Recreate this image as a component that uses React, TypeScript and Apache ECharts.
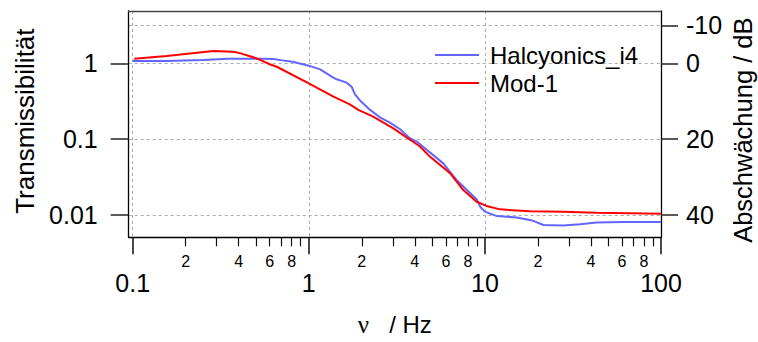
import React, { useEffect, useRef } from "react";
import * as echarts from "echarts";

// ---- data ----
const freqBlue = [0.1, 0.156, 0.25, 0.35, 0.55, 0.63, 0.69, 0.81, 1.0, 1.16, 1.37, 1.44, 1.64, 1.75, 1.83, 1.96, 2.23, 2.53, 2.89, 3.3, 3.75, 4.1, 5.8, 6.9, 7.9, 9.0, 9.4, 10, 11.7, 15.2, 18.8, 21.5, 27.9, 34.7, 43.1, 61, 100];
const transBlue = [1.07, 1.07, 1.105, 1.15, 1.15, 1.14, 1.1, 1.05, 0.93, 0.83, 0.65, 0.615, 0.555, 0.49, 0.39, 0.32, 0.243, 0.194, 0.165, 0.135, 0.103, 0.093, 0.048, 0.029, 0.0214, 0.0161, 0.0129, 0.0111, 0.0097, 0.0093, 0.0084, 0.0074, 0.0073, 0.0076, 0.008, 0.0081, 0.0081];

const freqRed = [0.102, 0.156, 0.287, 0.372, 0.406, 0.506, 0.6, 0.658, 1.0, 1.38, 1.51, 1.71, 1.91, 2.32, 3.02, 4.28, 4.87, 6.34, 7.54, 8.98, 10.2, 12.2, 18, 27.9, 43.1, 66.7, 100];
const transRed = [1.15, 1.25, 1.45, 1.42, 1.36, 1.16, 0.97, 0.9, 0.545, 0.363, 0.33, 0.288, 0.243, 0.198, 0.139, 0.08, 0.059, 0.0356, 0.0214, 0.015, 0.0132, 0.0119, 0.0112, 0.0111, 0.0107, 0.0106, 0.0104];

const seriesNames = ["Halcyonics_i4", "Mod-1"];

const xMajorValues = [0.1, 1, 10, 100];
const xMajorLabels = ["0.1", "1", "10", "100"];
const xMinorMultipliers = [2, 3, 4, 5, 6, 7, 8, 9];
const xMinorLabelled = [2, 4, 6, 8];
const xDecades = [0.1, 1, 10];

const yLeftValues = [0.01, 0.1, 1];
const yLeftLabels = ["0.01", "0.1", "1"];
const yRightValues = [-10, 0, 20, 40];
const yRightLabels = ["-10", "0", "20", "40"];

// axis ranges
const xMin = 0.0949;
const xMax = 100;
const yMin = 0.0051;
const yMax = 4.88;

const FONT = "Liberation Sans, Arial, sans-serif";
const lg = (v: number) => Math.log10(v);

function nearestLabel(v: number, values: number[], labels: string[]) {
  let best = 0;
  let bd = Infinity;
  values.forEach((x, i) => {
    const d = Math.abs(x - v);
    if (d < bd) {
      bd = d;
      best = i;
    }
  });
  return labels[best];
}

export default function App() {
  const ref = useRef<HTMLDivElement>(null);

  useEffect(() => {
    document.body.style.margin = "0";
    if (!ref.current) return;
    const chart = echarts.init(ref.current, undefined, { renderer: "svg" });

    const xMajorLog = xMajorValues.map(lg);
    const xMinorLog: number[] = [];
    xDecades.forEach((d) => {
      xMinorMultipliers.forEach((k) => {
        xMinorLog.push(lg(k * d));
      });
    });
    const xMinorLabVals: number[] = [];
    const xMinorLabTxt: string[] = [];
    xDecades.forEach((d) => {
      xMinorLabelled.forEach((k) => {
        xMinorLabVals.push(lg(k * d));
        xMinorLabTxt.push(String(k));
      });
    });

    const yLeftLog = yLeftValues.map(lg);
    const dbTop = -20 * lg(yMax);
    const dbBottom = -20 * lg(yMin);

    const gridLine = { show: true, lineStyle: { color: "#ababab", width: 1, type: [3, 3] as any } };

    const option: any = {
      animation: false,
      backgroundColor: "#ffffff",
      grid: {
        left: 128.7,
        right: 97,
        top: 11,
        bottom: 104.7,
        containLabel: false,
        outerBoundsMode: "none",
        show: false,
      },
      legend: {
        show: true,
        orient: "vertical",
        left: 430,
        top: 38,
        icon: "rect",
        itemWidth: 44,
        itemHeight: 2,
        itemGap: 4,
        data: seriesNames,
        textStyle: { fontFamily: FONT, fontSize: 24, color: "#000", padding: [0, 0, 0, 6] },
      },
      xAxis: [
        {
          type: "log",
          logBase: 10,
          min: xMin,
          max: xMax,
          show: false,
          gridIndex: 0,
        },
        {
          type: "value",
          min: lg(xMin),
          max: lg(xMax),
          position: "bottom",
          gridIndex: 0,
          axisLine: { show: true, onZero: false, lineStyle: { color: "#000", width: 1.3 } },
          axisTick: { show: true, customValues: xMajorLog, length: 17, lineStyle: { color: "#111", width: 1.5 } },
          axisLabel: {
            show: true,
            customValues: xMajorLog,
            margin: 33,
            fontFamily: FONT,
            fontSize: 25,
            color: "#000",
            formatter: (v: number) => nearestLabel(v, xMajorLog, xMajorLabels),
          },
          splitLine: gridLine,
          name: "{g|ν}   / Hz",
          nameLocation: "middle",
          nameGap: 75,
          nameMoveOverlap: false,
          nameTextStyle: {
            fontFamily: FONT,
            fontSize: 24,
            color: "#000",
            rich: { g: { fontFamily: "Liberation Serif, serif", fontSize: 25, color: "#000" } },
          },
        },
        {
          type: "value",
          min: lg(xMin),
          max: lg(xMax),
          position: "bottom",
          gridIndex: 0,
          axisLine: { show: false, onZero: false },
          axisTick: { show: true, customValues: xMinorLog, length: 9, lineStyle: { color: "#111", width: 1.2 } },
          axisLabel: {
            show: true,
            customValues: xMinorLabVals,
            margin: 16,
            fontFamily: FONT,
            fontSize: 16,
            color: "#000",
            formatter: (v: number) => nearestLabel(v, xMinorLabVals, xMinorLabTxt),
          },
          splitLine: { show: false },
        },
        {
          type: "value",
          min: lg(xMin),
          max: lg(xMax),
          position: "top",
          gridIndex: 0,
          axisLine: { show: true, onZero: false, lineStyle: { color: "#444", width: 1.3 } },
          axisTick: { show: false },
          axisLabel: { show: false },
          splitLine: { show: false },
        },
      ],
      yAxis: [
        {
          type: "log",
          logBase: 10,
          min: yMin,
          max: yMax,
          show: false,
          gridIndex: 0,
        },
        {
          type: "value",
          min: lg(yMin),
          max: lg(yMax),
          position: "left",
          gridIndex: 0,
          axisLine: { show: true, onZero: false, lineStyle: { color: "#000", width: 1.3 } },
          axisTick: { show: true, customValues: yLeftLog, length: 18, lineStyle: { color: "#222", width: 1.5 } },
          axisLabel: {
            show: true,
            customValues: yLeftLog,
            margin: 31,
            fontFamily: FONT,
            fontSize: 25,
            color: "#000",
            formatter: (v: number) => nearestLabel(v, yLeftLog, yLeftLabels),
          },
          splitLine: { show: false },
          name: "Transmissibilität",
          nameLocation: "middle",
          nameRotate: 90,
          nameGap: 91,
          nameMoveOverlap: false,
          nameTextStyle: { fontFamily: FONT, fontSize: 26, color: "#000", padding: [0, 0, 0, 6] },
        },
        {
          type: "value",
          inverse: true,
          min: dbTop,
          max: dbBottom,
          position: "right",
          gridIndex: 0,
          axisLine: { show: true, onZero: false, lineStyle: { color: "#000", width: 1.3 } },
          axisTick: { show: true, customValues: yRightValues, length: 17, lineStyle: { color: "#222", width: 1.5 } },
          axisLabel: {
            show: true,
            customValues: yRightValues,
            margin: 25,
            fontFamily: FONT,
            fontSize: 25,
            color: "#000",
            formatter: (v: number) => nearestLabel(v, yRightValues, yRightLabels),
          },
          splitLine: gridLine,
          name: "Abschwächung / dB",
          nameLocation: "middle",
          nameRotate: 90,
          nameGap: 69,
          nameMoveOverlap: false,
          nameTextStyle: { fontFamily: FONT, fontSize: 25.5, color: "#000", padding: [0, 12, 0, 0] },
        },
      ],
      series: [
        {
          name: seriesNames[0],
          type: "line",
          xAxisIndex: 0,
          yAxisIndex: 0,
          showSymbol: false,
          symbol: "none",
          lineStyle: { color: "#6464ff", width: 2 },
          itemStyle: { color: "#6464ff" },
          data: freqBlue.map((f, i) => [f, transBlue[i]]),
          z: 3,
        },
        {
          name: seriesNames[1],
          type: "line",
          xAxisIndex: 0,
          yAxisIndex: 0,
          showSymbol: false,
          symbol: "none",
          lineStyle: { color: "#ff0000", width: 2 },
          itemStyle: { color: "#ff0000" },
          data: freqRed.map((f, i) => [f, transRed[i]]),
          z: 4,
        },
      ],
    };

    chart.setOption(option);
    return () => chart.dispose();
  }, []);

  return <div ref={ref} style={{ width: 758, height: 342 }} />;
}
